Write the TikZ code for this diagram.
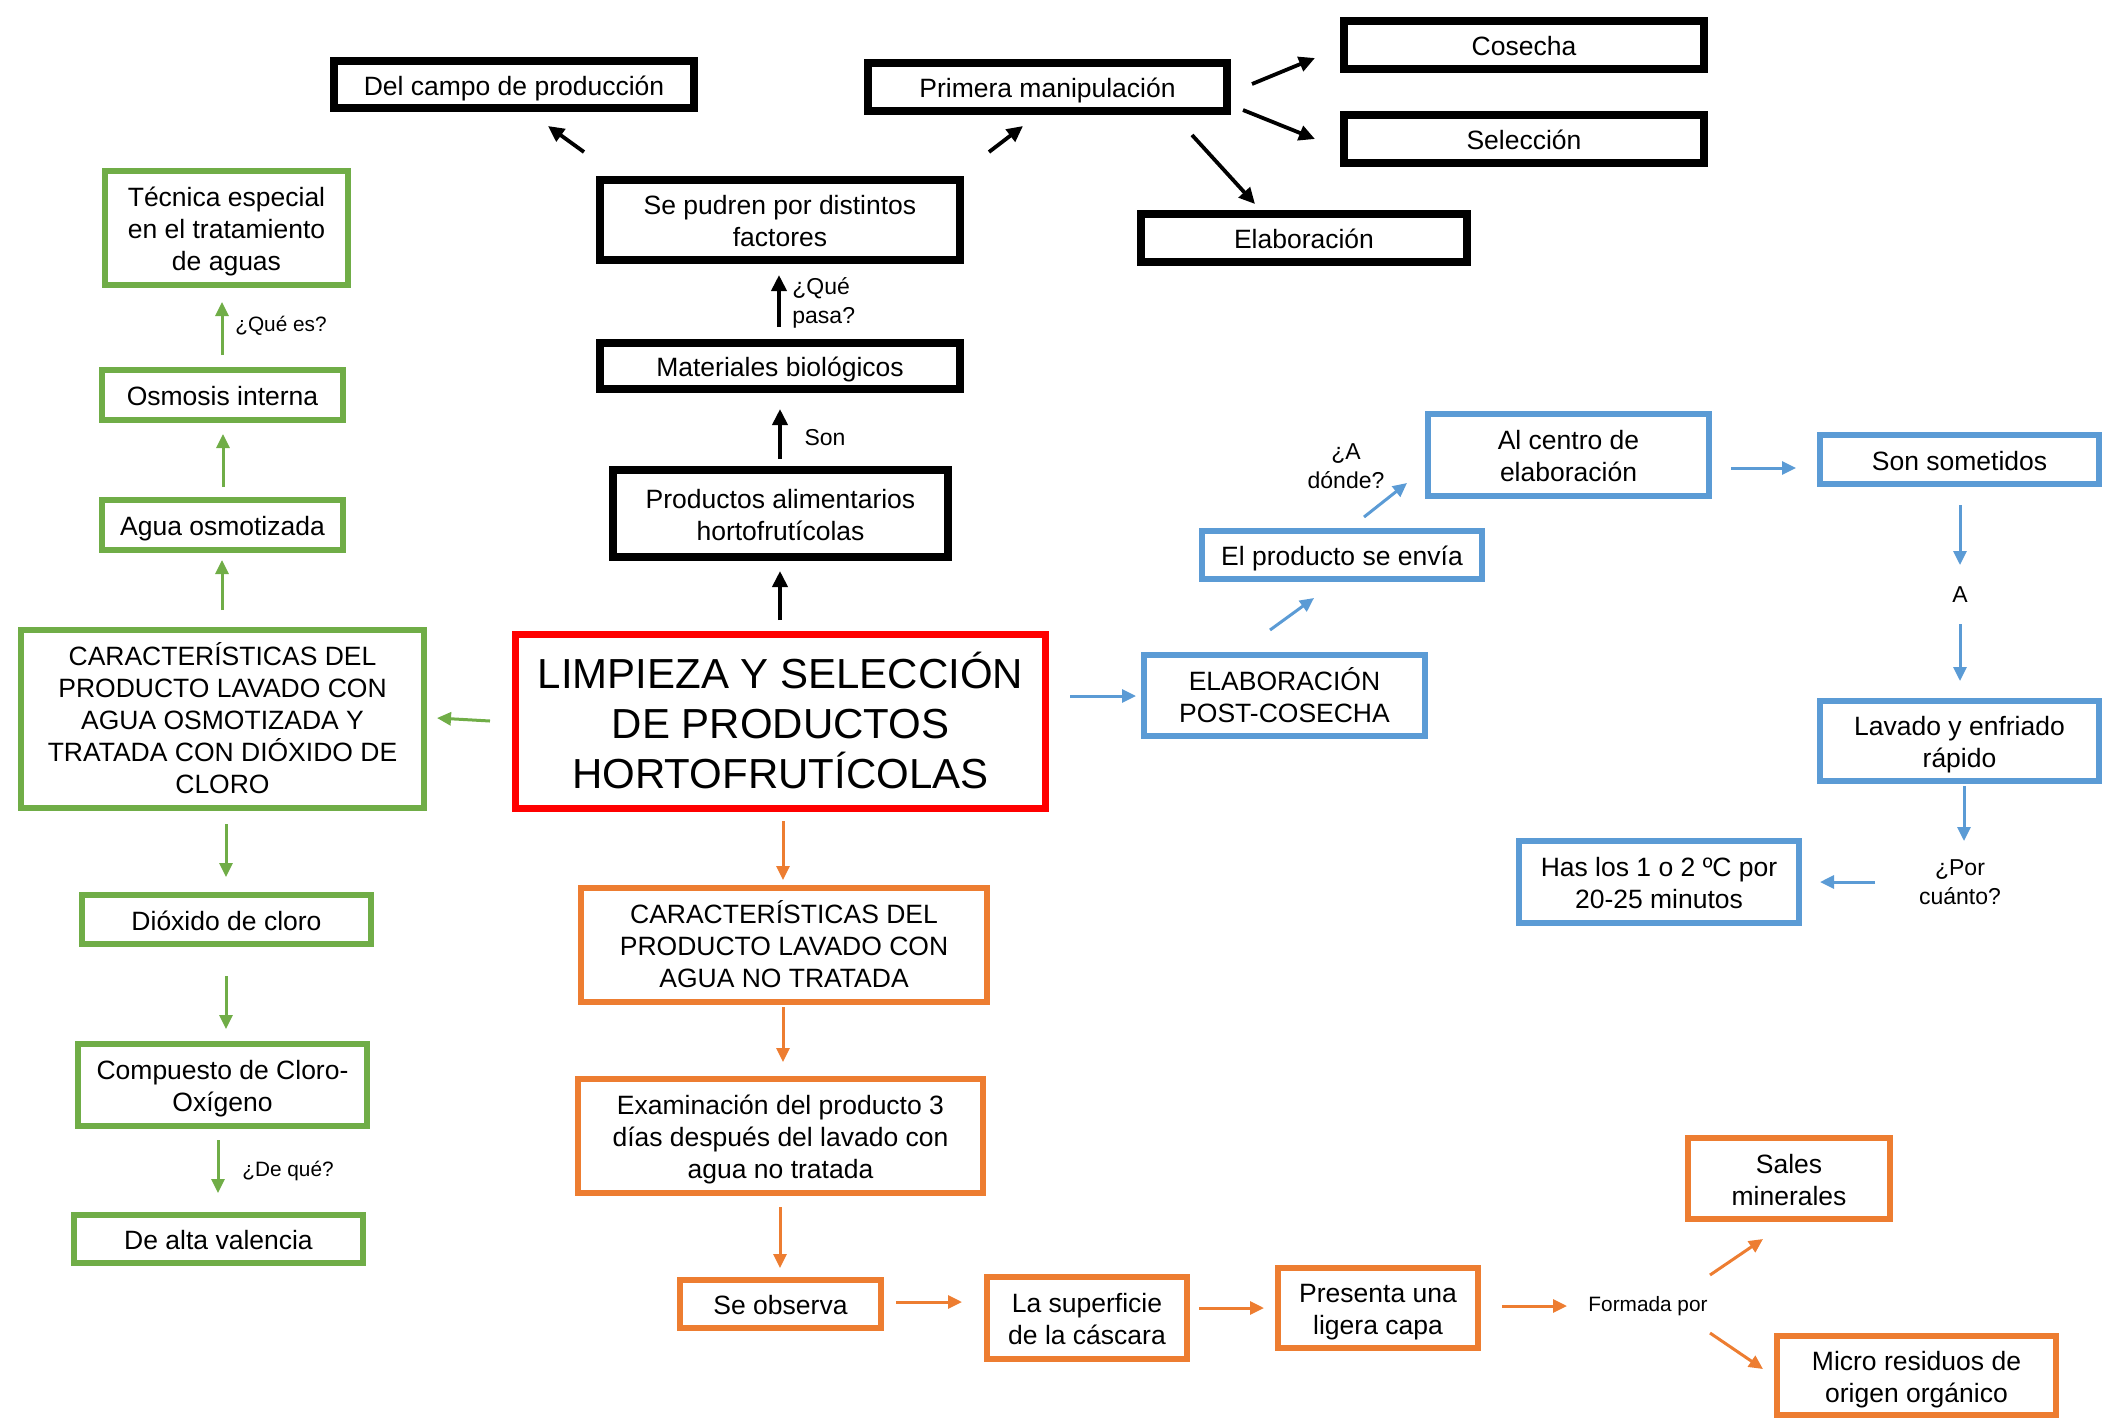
\documentclass[tikz,border=0pt]{standalone}
\usepackage{fontspec}
\setmainfont{Liberation Sans}
\usetikzlibrary{arrows.meta}
\definecolor{cgreen}{HTML}{70AD47}
\definecolor{cblue}{HTML}{5B9BD5}
\definecolor{corange}{HTML}{ED7D31}
\definecolor{cred}{HTML}{FF0000}
\newcommand\fsbox{\fontsize{13.25pt}{16pt}\selectfont}
\newcommand\fstitle{\fontsize{21pt}{25pt}\selectfont}
\newcommand\fsmid{\fontsize{11.5pt}{14.5pt}\selectfont}
\newcommand\fssmall{\fontsize{10.4pt}{13pt}\selectfont}
\newcommand\tstrut{\rule{0pt}{1.057em}}
\newcommand\bstrut{\rule[-0.25em]{0pt}{0pt}}
\tikzset{
  box/.style={draw, inner sep=0pt, align=center, font=\fsbox},
  bbox/.style={box, line width=4pt, draw=black},
  gbox/.style={box, line width=3pt, draw=cgreen},
  obox/.style={box, line width=3pt, draw=corange},
  ubox/.style={box, line width=3pt, draw=cblue},
  rbox/.style={box, line width=3.5pt, draw=cred, font=\fstitle},
  lbl/.style={inner sep=0pt, align=center, font=\fsmid},
  slbl/.style={inner sep=0pt, align=center, font=\fssmall},
  barr/.style={-{Triangle[length=8pt,width=7.5pt]}, line width=1.9pt, draw=black},
  garr/.style={-{Triangle[length=7pt,width=6.5pt]}, line width=1.5pt, draw=cgreen},
  uarr/.style={-{Triangle[length=7pt,width=6.5pt]}, line width=1.5pt, draw=cblue},
  oarr/.style={-{Triangle[length=7pt,width=6.5pt]}, line width=1.5pt, draw=corange},
}
% box: name, style, x1, y1, x2, y2 (mid-line pixel coords), text
\newcommand\bx[7]{\node[#2, minimum width={(#5-#3)*0.5pt}, minimum height={(#6-#4)*0.5pt}] (#1) at ({(#3+#5)/2},{(#4+#6)/2}) {\tstrut#7\bstrut};}
\begin{document}
\begin{tikzpicture}[x=0.5pt,y=-0.5pt]
\useasboundingbox (0,0) rectangle (2105,1421);
% ---------- black boxes ----------
\bx{campo}{bbox}{334}{61}{694}{108}{Del campo de producción}
\bx{primera}{bbox}{868}{63}{1227}{111}{Primera manipulación}
\bx{cosecha}{bbox}{1344}{21}{1704}{69}{Cosecha}
\bx{seleccion}{bbox}{1344}{115}{1704}{163}{Selección}
\bx{elaboracion}{bbox}{1141}{214}{1467}{262}{Elaboración}
\bx{pudren}{bbox}{600}{180}{960}{260}{Se pudren por distintos\\factores}
\bx{materiales}{bbox}{600}{343}{960}{389}{Materiales biológicos}
\bx{productos}{bbox}{613}{470}{948}{557}{Productos alimentarios\\hortofrutícolas}
% ---------- central ----------
\bx{limpieza}{rbox}{515.5}{634.5}{1045.5}{808.5}{LIMPIEZA Y SELECCIÓN\\DE PRODUCTOS\\HORTOFRUTÍCOLAS}
% ---------- green ----------
\bx{tecnica}{gbox}{105}{171}{348}{285}{Técnica especial\\en el tratamiento\\de aguas}
\bx{osmosis}{gbox}{102}{370}{343}{420}{Osmosis interna}
\bx{agua}{gbox}{102}{500}{343}{550}{Agua osmotizada}
\bx{caractV}{gbox}{21}{630}{424}{808}{CARACTERÍSTICAS DEL\\PRODUCTO LAVADO CON\\AGUA OSMOTIZADA Y\\TRATADA CON DIÓXIDO DE\\CLORO}
\bx{dioxido}{gbox}{82}{895}{371}{944}{Dióxido de cloro}
\bx{compuesto}{gbox}{78}{1044}{367}{1126}{Compuesto de Cloro-\\Oxígeno}
\bx{alta}{gbox}{74}{1215}{363}{1263}{De alta valencia}
% ---------- blue ----------
\bx{elabpost}{ubox}{1144}{655}{1425}{736}{ELABORACIÓN\\POST-COSECHA}
\bx{envia}{ubox}{1202}{531}{1482}{579}{El producto se envía}
\bx{centro}{ubox}{1428}{414}{1709}{496}{Al centro de\\elaboración}
\bx{sometidos}{ubox}{1820}{435}{2099}{484}{Son sometidos}
\bx{lavado}{ubox}{1820}{701}{2099}{781}{Lavado y enfriado\\rápido}
\bx{has}{ubox}{1519}{841}{1799}{923}{Has los 1 o 2 ºC por\\20-25 minutos}
% ---------- orange ----------
\bx{caractNo}{obox}{581}{888}{987}{1002}{CARACTERÍSTICAS DEL\\PRODUCTO LAVADO CON\\AGUA NO TRATADA}
\bx{examen}{obox}{578}{1079}{983}{1193}{Examinación del producto 3\\días después del lavado con\\agua no tratada}
\bx{observa}{obox}{680}{1280}{881}{1328}{Se observa}
\bx{superficie}{obox}{987}{1277}{1187}{1359}{La superficie\\de la cáscara}
\bx{presenta}{obox}{1278}{1268}{1478}{1348}{Presenta una\\ligera capa}
\bx{sales}{obox}{1688}{1138}{1890}{1219}{Sales\\minerales}
\bx{micro}{obox}{1777}{1336}{2056}{1415}{Micro residuos de\\origen orgánico}
% ---------- labels ----------
\node[lbl, anchor=west, align=left] (lqpasa) at (792,303) {¿Qué\\pasa?};
\node[lbl] (lson) at (825,438) {Son};
\node[slbl] (lqes) at (281,326) {¿Qué es?};
\node[slbl] (ldeque) at (288,1171) {¿De qué?};
\node[lbl] (ladonde) at (1346,466) {¿A\\dónde?};
\node[lbl] (la) at (1960,595) {A};
\node[lbl] (lpor) at (1960,882) {¿Por\\cuánto?};
\node[slbl] (lformada) at (1648,1306) {Formada por};
% ---------- arrow endpoints ----------
\coordinate (b1s) at (780,620);  \coordinate (b1e) at (780,571);
\coordinate (b2s) at (780,459);  \coordinate (b2e) at (780,409);
\coordinate (b3s) at (779,327);  \coordinate (b3e) at (779,275);
\coordinate (b4s) at (584,152);  \coordinate (b4e) at (548,126);
\coordinate (b5s) at (989,152);  \coordinate (b5e) at (1023,126);
\coordinate (b6s) at (1252,84);  \coordinate (b6e) at (1315,58);
\coordinate (b7s) at (1243,110); \coordinate (b7e) at (1315,139);
\coordinate (b8s) at (1192,135); \coordinate (b8e) at (1255,204);
\coordinate (g1s) at (490,721);  \coordinate (g1e) at (437,718);
\coordinate (g2s) at (222,610);  \coordinate (g2e) at (222,560);
\coordinate (g3s) at (223,487);  \coordinate (g3e) at (223,434);
\coordinate (g4s) at (222,355);  \coordinate (g4e) at (222,302);
\coordinate (g5s) at (226,824);  \coordinate (g5e) at (226,877);
\coordinate (g6s) at (226,976);  \coordinate (g6e) at (226,1029);
\coordinate (g7s) at (218,1140); \coordinate (g7e) at (218,1193);
\coordinate (u1s) at (1070,696); \coordinate (u1e) at (1136,696);
\coordinate (u2s) at (1270,630); \coordinate (u2e) at (1314,598);
\coordinate (u3s) at (1364,517); \coordinate (u3e) at (1407,483);
\coordinate (u4s) at (1731,468); \coordinate (u4e) at (1796,468);
\coordinate (u5s) at (1960,505); \coordinate (u5e) at (1960,565);
\coordinate (u6s) at (1960,624); \coordinate (u6e) at (1960,681);
\coordinate (u7s) at (1964,786); \coordinate (u7e) at (1964,841);
\coordinate (u8s) at (1875,882); \coordinate (u8e) at (1820,882);
\coordinate (o1s) at (783,821);  \coordinate (o1e) at (783,880);
\coordinate (o2s) at (783,1007); \coordinate (o2e) at (783,1062);
\coordinate (o3s) at (780,1207); \coordinate (o3e) at (780,1268);
\coordinate (o4s) at (896,1302); \coordinate (o4e) at (962,1302);
\coordinate (o5s) at (1199,1308);\coordinate (o5e) at (1264,1308);
\coordinate (o6s) at (1502,1306);\coordinate (o6e) at (1567,1306);
\coordinate (o7s) at (1710,1275);\coordinate (o7e) at (1763,1239);
\coordinate (o8s) at (1710,1333);\coordinate (o8e) at (1763,1369);
% ---------- arrows ----------
\foreach \i in {1,...,8} {\draw[barr] (b\i s) -- (b\i e);}
\foreach \i in {1,...,7} {\draw[garr] (g\i s) -- (g\i e);}
\foreach \i in {1,...,8} {\draw[uarr] (u\i s) -- (u\i e);}
\foreach \i in {1,...,8} {\draw[oarr] (o\i s) -- (o\i e);}
\end{tikzpicture}
\end{document}
